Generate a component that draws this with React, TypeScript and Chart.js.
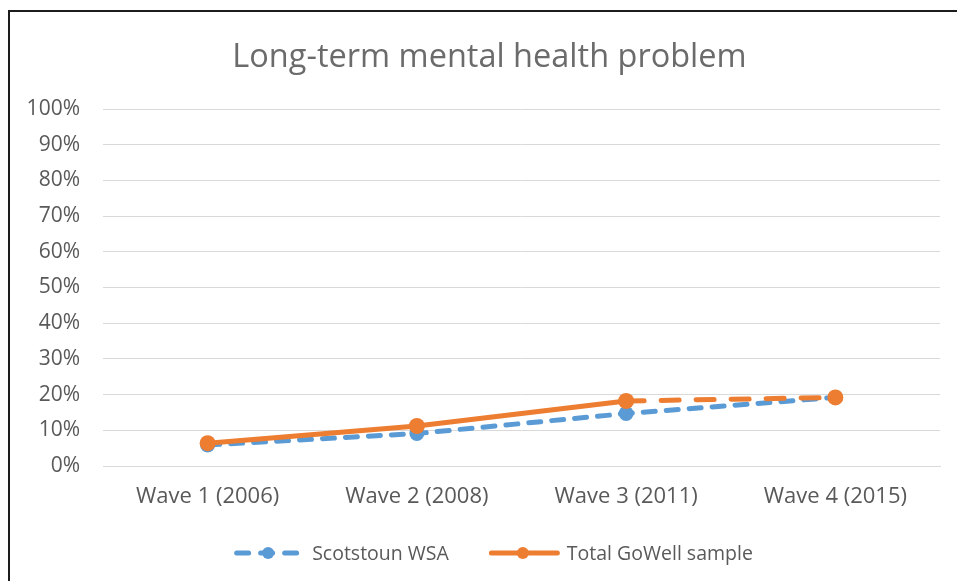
import React, { useEffect, useRef } from "react";
import { Chart, registerables } from "chart.js";

Chart.register(...registerables);

const TITLE = "Long-term mental health problem";
const categories = ["Wave 1 (2006)", "Wave 2 (2008)", "Wave 3 (2011)", "Wave 4 (2015)"];
const scotstounLabel = "Scotstoun WSA";
const scotstoun = [5.9, 9.1, 14.7, 19.2];
const totalLabel = "Total GoWell sample";
const totalGoWell = [6.4, 11.2, 18.2, 19.2];
const yTicks = [0, 10, 20, 30, 40, 50, 60, 70, 80, 90, 100];

const BLUE = "#5B9BD5";
const ORANGE = "#ED7D31";
const TEXT = "#595959";
const GRID = "#d9d9d9";
const FONT = '"Open Sans", sans-serif';

const W = 962;
const H = 575;

const BLUE_DASH = [12, 11];
const ORANGE_DASH = [18, 17];

const legendPlugin = {
  id: "excelLegend",
  afterDraw(chart: any) {
    const ctx = chart.ctx as CanvasRenderingContext2D;
    const ds = chart.data.datasets as any[];
    ctx.save();
    ctx.font = `19.5px ${FONT}`;
    const sym = 68;
    const gap = 10;
    const spacing = 40;
    const widths = ds.map((d) => sym + gap + ctx.measureText(d.label).width);
    const total = widths.reduce((a, b) => a + b, 0) + spacing * (ds.length - 1);
    let x = 483.5 - total / 2;
    const y = 541;
    ds.forEach((d, i) => {
      ctx.strokeStyle = d.borderColor;
      ctx.lineWidth = 5;
      ctx.lineCap = "round";
      ctx.setLineDash(d.legendDash || []);
      ctx.beginPath();
      ctx.moveTo(x + 2.5, y);
      ctx.lineTo(x + sym + 0.5, y);
      ctx.stroke();
      ctx.setLineDash([]);
      ctx.fillStyle = d.borderColor;
      ctx.beginPath();
      ctx.arc(x + 34, y, 6, 0, Math.PI * 2);
      ctx.fill();
      ctx.fillStyle = TEXT;
      ctx.textBaseline = "middle";
      ctx.textAlign = "left";
      ctx.fillText(d.label, x + sym + gap, y + 1);
      x += widths[i] + spacing;
    });
    ctx.restore();
  },
};

export default function App() {
  const ref = useRef<HTMLCanvasElement | null>(null);

  useEffect(() => {
    if (!ref.current) return;
    Chart.defaults.font.family = FONT;
    const chart = new Chart(ref.current, {
      type: "line",
      data: {
        labels: categories,
        datasets: [
          {
            label: scotstounLabel,
            data: scotstoun,
            borderColor: BLUE,
            backgroundColor: BLUE,
            borderWidth: 5,
            borderDash: BLUE_DASH,
            borderCapStyle: "round",
            pointRadius: 7.5,
            pointHoverRadius: 7.5,
            pointBorderWidth: 0,
            pointBackgroundColor: BLUE,
            tension: 0,
            order: 1,
            legendDash: [12, 12],
          } as any,
          {
            label: totalLabel,
            data: totalGoWell,
            borderColor: ORANGE,
            backgroundColor: ORANGE,
            borderWidth: 5,
            borderCapStyle: "round",
            pointRadius: 8,
            pointHoverRadius: 8,
            pointBorderWidth: 0,
            pointBackgroundColor: ORANGE,
            tension: 0,
            order: 0,
            segment: {
              borderDash: (c: any) => (c.p0DataIndex === 2 ? ORANGE_DASH : undefined),
            },
          } as any,
        ],
      },
      options: {
        responsive: false,
        animation: false,
        devicePixelRatio: 1,
        layout: { padding: { left: 0, right: W - 959, top: 0, bottom: H - 454 - 60 } },
        plugins: {
          legend: { display: false },
          tooltip: { enabled: false },
          title: {
            display: true,
            text: TITLE,
            color: "#6b6b6b",
            font: { family: FONT, size: 32.5, weight: "normal" as any, lineHeight: 1.2 },
            padding: { top: 26, bottom: 32 },
          },
        },
        scales: {
          x: {
            offset: true,
            grid: { display: false, drawTicks: false },
            border: { display: true, color: GRID, width: 1 },
            ticks: { color: TEXT, font: { size: 22 }, padding: 18, maxRotation: 0 },
            afterFit: (s: any) => {
              s.height = 60;
            },
          },
          y: {
            min: 0,
            max: 100,
            afterBuildTicks: (s: any) => {
              s.ticks = yTicks.map((v) => ({ value: v }));
            },
            grid: { color: GRID, lineWidth: 1, drawTicks: false },
            border: { display: false },
            ticks: {
              color: TEXT,
              font: { size: 21 },
              padding: 23,
              callback: (v: any) => `${v}%`,
            },
            afterFit: (s: any) => {
              s.width = 93;
            },
          },
          yRight: {
            position: "right",
            min: 0,
            max: 100,
            display: true,
            grid: { display: false, drawTicks: false },
            border: { display: false },
            ticks: { display: false },
            afterFit: (s: any) => {
              s.width = 29;
            },
          },
        },
      },
      plugins: [legendPlugin],
    });
    return () => chart.destroy();
  }, []);

  return (
    <div
      style={{
        position: "absolute",
        left: 0,
        top: 0,
        width: 957,
        height: 581,
        overflow: "hidden",
        background: "#fff",
      }}
    >
      <div
        style={{
          position: "absolute",
          left: 8,
          top: 10,
          width: W + 2,
          height: H + 2,
          borderLeft: "2px solid #1c1c1c",
          borderTop: "2px solid #1c1c1c",
        }}
      >
        <canvas ref={ref} width={W} height={H} style={{ display: "block", width: W, height: H }} />
      </div>
    </div>
  );
}
